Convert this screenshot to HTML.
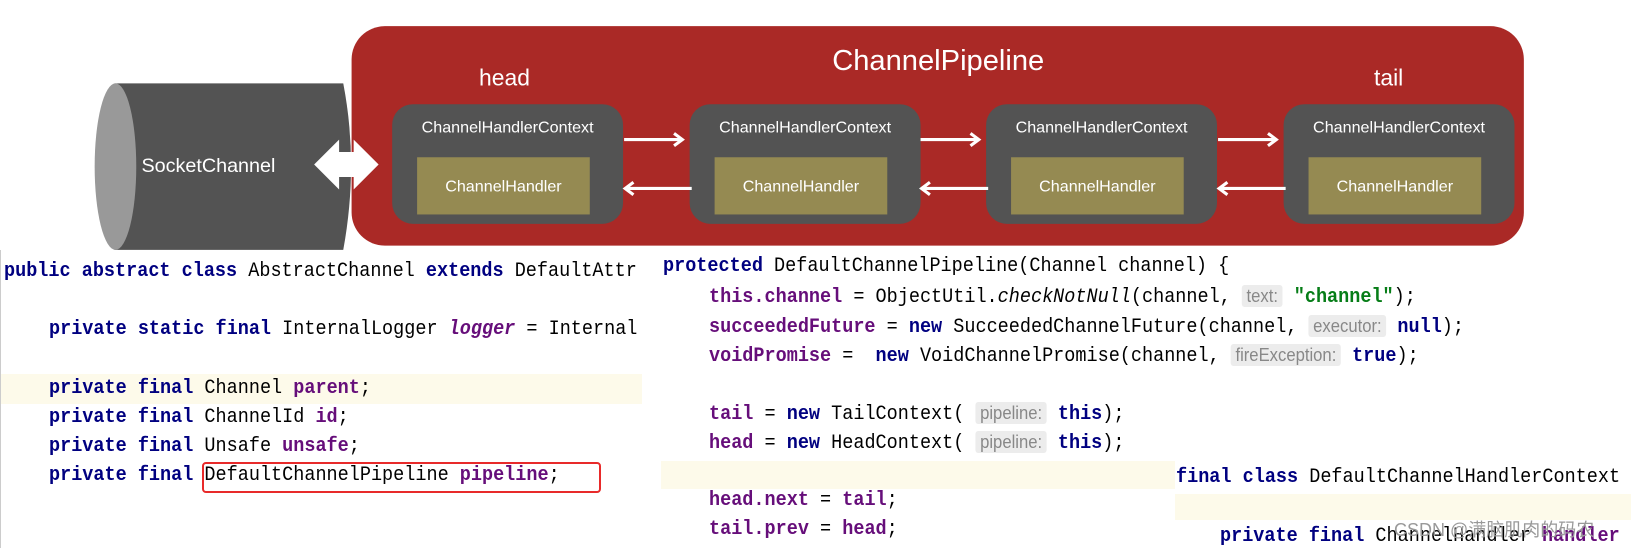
<!DOCTYPE html>
<html><head><meta charset="utf-8"><style>
body{margin:0;width:1631px;height:548px;background:#fff;position:relative;overflow:hidden;font-family:"Liberation Sans",sans-serif}
.c{position:absolute;font-family:"Liberation Mono",monospace;font-size:20px;white-space:pre;color:#000;line-height:24px;transform:scaleX(0.925);transform-origin:0 0}
.k{color:#000080;font-weight:bold}
.f{color:#660e7a;font-weight:bold}
.s{color:#067d17;font-weight:bold}
.h{font-family:"Liberation Sans",sans-serif;color:#888;background:#ececec;font-size:18px;padding:1px 5px;border-radius:3px}
</style></head><body>
<svg width="1631" height="250" viewBox="0 0 1568 240" style="position:absolute;left:0;top:0" font-family="Liberation Sans,sans-serif">
<rect x="338" y="25" width="1127" height="211" rx="32" fill="#aa2926"/>
<path d="M110 80 H330 Q345 158 330 240 H110 Z" fill="#535353"/>
<ellipse cx="111" cy="160" rx="20" ry="80" fill="#999"/>
<polygon points="302,158 326,134 326,146 340,146 340,134 364,158 340,182 340,170 326,170 326,182" fill="#fff"/>
<text x="136" y="165" font-size="19" fill="#fff">SocketChannel</text>
<text x="902" y="67" font-size="28" fill="#fff" text-anchor="middle">ChannelPipeline</text>
<text x="485" y="82" font-size="22" fill="#fff" text-anchor="middle">head</text>
<text x="1335" y="82" font-size="22" fill="#fff" text-anchor="middle">tail</text>
<g id="b">
<rect x="377" y="100" width="222" height="115" rx="20" fill="#535353"/>
<rect x="401" y="151" width="166" height="55" fill="#958a52"/>
<text x="488" y="127" font-size="15.5" fill="#fff" text-anchor="middle">ChannelHandlerContext</text>
<text x="484" y="184" font-size="15.5" fill="#fff" text-anchor="middle">ChannelHandler</text>
</g>
<use href="#b" x="286"/><use href="#b" x="571"/><use href="#b" x="857"/>
<g stroke="#fff" stroke-width="3" fill="none">
<path d="M600 134 H655 M648 128 L656 134 L648 140"/>
<path d="M885 134 H940 M933 128 L941 134 L933 140"/>
<path d="M1171 134 H1226 M1219 128 L1227 134 L1219 140"/>
<path d="M665 181 H602 M609 175 L601 181 L609 187"/>
<path d="M950 181 H887 M894 175 L886 181 L894 187"/>
<path d="M1236 181 H1173 M1180 175 L1172 181 L1180 187"/>
</g>
</svg>
<div style="position:absolute;left:0;top:374px;width:642px;height:30px;background:#fdfaea"></div>
<div style="position:absolute;left:661px;top:461px;width:514px;height:28px;background:#fdfaea"></div>
<div style="position:absolute;left:1175px;top:494px;width:456px;height:26px;background:#fdfaea"></div>
<div style="position:absolute;left:0;top:250px;width:1px;height:298px;background:#ccc"></div>
<div class="c" style="left:4px;top:260px"><span class="k">public abstract class</span> AbstractChannel <span class="k">extends</span> DefaultAttr</div>
<div class="c" style="left:49px;top:318px"><span class="k">private static final</span> InternalLogger <i class="f">logger</i> = Internal</div>
<div class="c" style="left:49px;top:377px"><span class="k">private final</span> Channel <span class="f">parent</span>;</div>
<div class="c" style="left:49px;top:406px"><span class="k">private final</span> ChannelId <span class="f">id</span>;</div>
<div class="c" style="left:49px;top:435px"><span class="k">private final</span> Unsafe <span class="f">unsafe</span>;</div>
<div class="c" style="left:49px;top:464px"><span class="k">private final</span> DefaultChannelPipeline <span class="f">pipeline</span>;</div>
<div style="position:absolute;left:202px;top:462px;width:395px;height:27px;border:2.5px solid #e82a2a;border-radius:4px"></div>
<div class="c" style="left:663px;top:255px"><span class="k">protected</span> DefaultChannelPipeline(Channel channel) {</div>
<div class="c" style="left:709px;top:284px"><span class="f">this.channel</span> = ObjectUtil.<i>checkNotNull</i>(channel, <span class="h">text:</span> <span class="s">"channel"</span>);</div>
<div class="c" style="left:709px;top:314px"><span class="f">succeededFuture</span> = <span class="k">new</span> SucceededChannelFuture(channel, <span class="h">executor:</span> <span class="k">null</span>);</div>
<div class="c" style="left:709px;top:343px"><span class="f">voidPromise</span> =  <span class="k">new</span> VoidChannelPromise(channel, <span class="h">fireException:</span> <span class="k">true</span>);</div>
<div class="c" style="left:709px;top:401px"><span class="f">tail</span> = <span class="k">new</span> TailContext( <span class="h">pipeline:</span> <span class="k">this</span>);</div>
<div class="c" style="left:709px;top:430px"><span class="f">head</span> = <span class="k">new</span> HeadContext( <span class="h">pipeline:</span> <span class="k">this</span>);</div>
<div class="c" style="left:1176px;top:466px"><span class="k">final class</span> DefaultChannelHandlerContext</div>
<div class="c" style="left:709px;top:489px"><span class="f">head.next</span> = <span class="f">tail</span>;</div>
<div class="c" style="left:709px;top:518px"><span class="f">tail.prev</span> = <span class="f">head</span>;</div>
<div class="c" style="left:1220px;top:525px"><span class="k">private final</span> ChannelHandler <span class="f">handler</span></div>
<div style="position:absolute;left:1394px;top:516px;font-size:18px;color:#999;font-family:'Liberation Sans','Noto Sans CJK SC',sans-serif">CSDN @满脑肌肉的码农</div>
</body></html>
